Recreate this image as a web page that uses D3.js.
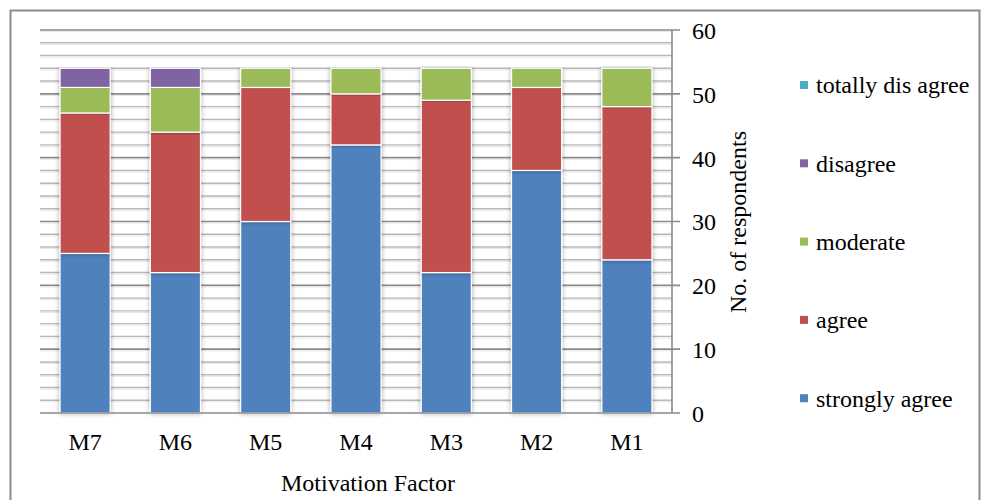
<!DOCTYPE html>
<html><head><meta charset="utf-8">
<script src="https://cdn.jsdelivr.net/npm/d3@7"></script>
<style>
body{margin:0;background:#fff;}
text{font-family:"Liberation Serif","Times New Roman",serif;fill:#000;}
</style></head>
<body><svg id="c" width="981" height="500"></svg>
<script>
const categories = ["M7","M6","M5","M4","M3","M2","M1"];
const seriesNames = ["strongly agree","agree","moderate","disagree","totally dis agree"];
const stronglyAgree = [25,22,30,42,22,38,24];
const agree = [22,22,21,8,27,13,24];
const moderate = [4,7,3,4,5,3,6];
const disagree = [3,3,0,0,0,0,0];
const totallyDisagree = [0,0,0,0,0,0,0];
const yTicks = [0,10,20,30,40,50,60];
const colors = ["#4F81BD","#C0504D","#9BBB59","#8064A2","#4BACC6"];

const seriesValues = [stronglyAgree, agree, moderate, disagree, totallyDisagree];
const rows = categories.map((c,i)=>{const o={cat:c}; seriesNames.forEach((s,j)=>o[s]=seriesValues[j][i]); return o;});

const FS = 24;
const svg = d3.select("#c");
const pL=40, pR=672, pT=30, pB=413;
const x = d3.scaleBand().domain(categories).range([pL,pR]).paddingInner(0.445).paddingOuter(0.222);
const y = d3.scaleLinear().domain([0,60]).range([pB,pT]);

// outer frame
svg.append("rect").attr("x",10.5).attr("y",10.5).attr("width",969).attr("height",495)
  .attr("fill","none").attr("stroke","#8c8c8c").attr("stroke-width",2);

const defs = svg.append("defs");
const f = defs.append("filter").attr("id","sh").attr("x","-20%").attr("y","-5%").attr("width","140%").attr("height","110%");
f.append("feGaussianBlur").attr("in","SourceAlpha").attr("stdDeviation",2.5).attr("result","b");
f.append("feOffset").attr("in","b").attr("dx",0).attr("dy",0).attr("result","o");
f.append("feComponentTransfer").attr("in","o").attr("result","o2").append("feFuncA").attr("type","linear").attr("slope",0.35);
const m = f.append("feMerge"); m.append("feMergeNode").attr("in","o2"); m.append("feMergeNode").attr("in","SourceGraphic");

// gridlines
const grid = svg.append("g");
d3.range(2,61,2).forEach(v=>{
  const major = v%10===0;
  grid.append("line").attr("x1",pL).attr("x2",major?680:pR)
    .attr("y1",y(v)).attr("y2",y(v))
    .attr("stroke",major?"#8a8a8a":"#b8b8b8").attr("stroke-width",major?1.6:1.4);
  grid.append("line").attr("x1",pL).attr("x2",pR)
    .attr("y1",y(v)+1.6).attr("y2",y(v)+1.6)
    .attr("stroke","#e6e6e6").attr("stroke-width",1);
});

// bars
const stack = d3.stack().keys(seriesNames);
const stacked = stack(rows);
const barsG = svg.append("g");
stacked.forEach((s,j)=>{
  barsG.append("g").selectAll("rect").data(s.filter(d=>d[1]-d[0]>0)).join("rect")
    .attr("x",d=>x(d.data.cat)).attr("width",x.bandwidth())
    .attr("y",d=>y(d[1])).attr("height",d=>y(d[0])-y(d[1]))
    .attr("fill",colors[j]).attr("stroke","#fff").attr("stroke-width",1.2)
    .attr("filter","url(#sh)");
});

// axes lines
svg.append("line").attr("x1",pR).attr("x2",pR).attr("y1",pT).attr("y2",pB)
  .attr("stroke","#8a8a8a").attr("stroke-width",1.6);
svg.append("line").attr("x1",pL).attr("x2",680).attr("y1",pB).attr("y2",pB)
  .attr("stroke","#8a8a8a").attr("stroke-width",1.6);

// y axis
const yAxis = d3.axisRight(y).tickValues(yTicks).tickSize(0).tickPadding(0);
const ya = svg.append("g").attr("transform",`translate(${692},0)`).call(yAxis);
ya.select(".domain").remove();
ya.attr("font-family",null).attr("font-size",null);
ya.selectAll("text").style("font-family","'Liberation Serif',serif").style("font-size",FS+"px").attr("fill","#000").attr("dy","0.35em").attr("x",0);

// x axis
const xAxis = d3.axisBottom(x).tickSize(0).tickPadding(0);
const xa = svg.append("g").attr("transform",`translate(0,${pB})`).call(xAxis);
xa.select(".domain").remove();
xa.attr("font-family",null).attr("font-size",null);
xa.selectAll("text").style("font-family","'Liberation Serif',serif").style("font-size",FS+"px").attr("fill","#000").attr("y",37).attr("dy",0);

// titles
svg.append("text").attr("x",368).attr("y",491).attr("text-anchor","middle").style("font-size",FS+"px").text("Motivation Factor");
svg.append("text").attr("transform","translate(746,222) rotate(-90)").attr("text-anchor","middle").style("font-size",FS+"px").text("No. of respondents");

// legend
const legOrder = seriesNames.map((s,i)=>({s,c:colors[i]})).reverse();
const lg = svg.append("g");
legOrder.forEach((d,i)=>{
  const cy = 85 + i*78.3;
  lg.append("rect").attr("x",800).attr("y",cy-4).attr("width",8).attr("height",8).attr("fill",d.c);
  lg.append("text").attr("x",816).attr("y",cy).attr("dy","0.35em").style("font-size",FS+"px").text(d.s);
});
</script></body></html>
